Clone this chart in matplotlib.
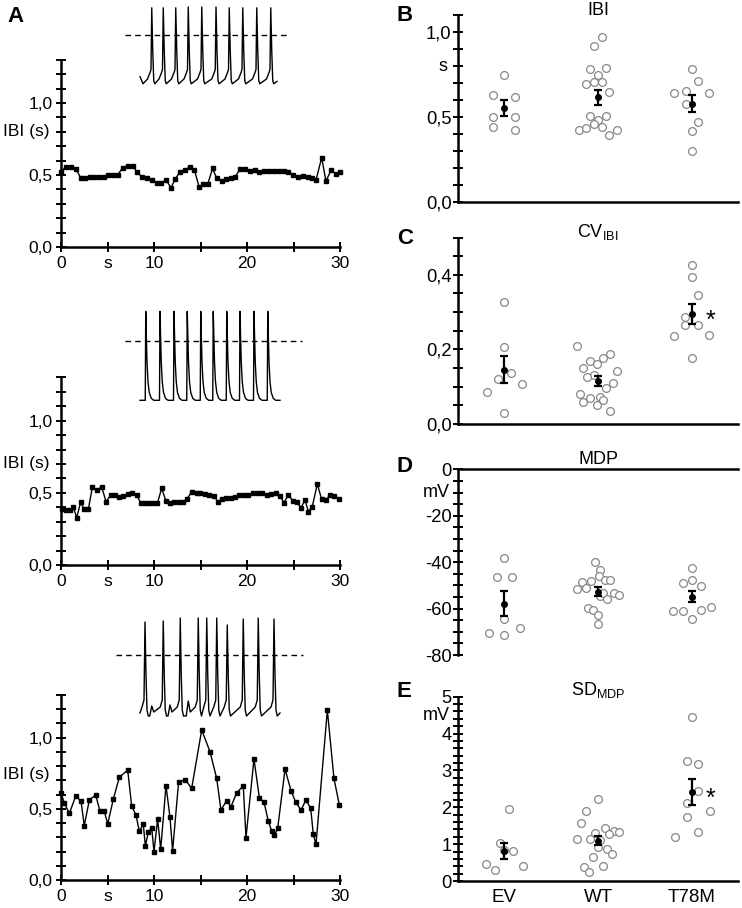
import numpy as np
import matplotlib
matplotlib.use("Agg")
import matplotlib.pyplot as plt

plt.rcParams['font.family'] = ['Liberation Sans', 'DejaVu Sans']

# ---------------- data: IBI time courses (panel A) ----------------
ibi1_t = [0.0, 0.54, 1.08, 1.61, 2.15, 2.58, 3.12, 3.58, 4.12, 4.62, 5.09, 5.63, 6.09, 6.63, 7.17,
          7.71, 8.14, 8.67, 9.21, 9.75, 10.29, 10.75, 11.29, 11.83, 12.26, 12.8, 13.33, 13.87, 14.34,
          14.87, 15.3, 15.77, 16.3, 16.74, 17.28, 17.74, 18.24, 18.71, 19.25, 19.78, 20.32, 20.86,
          21.32, 21.86, 22.37, 22.9, 23.44, 23.95, 24.44, 24.98, 25.52, 25.99, 26.53, 26.96, 27.42,
          28.03, 28.49, 29.03, 29.54, 30.0]
ibi1_v = [0.523, 0.558, 0.558, 0.541, 0.477, 0.477, 0.484, 0.484, 0.484, 0.488, 0.5, 0.5, 0.5, 0.551,
          0.565, 0.565, 0.523, 0.488, 0.477, 0.465, 0.442, 0.442, 0.465, 0.412, 0.470, 0.523, 0.535,
          0.558, 0.535, 0.414, 0.435, 0.435, 0.546, 0.477, 0.458, 0.472, 0.477, 0.486, 0.541, 0.541,
          0.528, 0.537, 0.523, 0.528, 0.528, 0.528, 0.528, 0.528, 0.519, 0.5, 0.484, 0.493, 0.484,
          0.477, 0.465, 0.62, 0.458, 0.532, 0.509, 0.523]

ibi2_t = [0.07, 0.54, 0.97, 1.32, 1.69, 2.11, 2.51, 2.94, 3.37, 3.9, 4.37, 4.84, 5.38, 5.81, 6.24,
          6.7, 7.17, 7.67, 8.14, 8.6, 9.03, 9.5, 9.93, 10.36, 10.82, 11.29, 11.72, 12.18, 12.69,
          13.15, 13.58, 14.05, 14.59, 14.95, 15.48, 15.95, 16.45, 16.85, 17.28, 17.74, 18.24, 18.71,
          19.17, 19.68, 20.14, 20.61, 21.15, 21.65, 22.12, 22.58, 23.09, 23.55, 23.98, 24.44, 24.91,
          25.34, 25.8, 26.24, 26.6, 27.02, 27.56, 28.03, 28.49, 28.92, 29.39, 29.9]
ibi2_v = [0.386, 0.381, 0.381, 0.40, 0.328, 0.434, 0.386, 0.386, 0.538, 0.52, 0.543, 0.439, 0.487,
          0.485, 0.469, 0.478, 0.49, 0.501, 0.485, 0.427, 0.427, 0.427, 0.427, 0.427, 0.531, 0.443,
          0.427, 0.434, 0.434, 0.439, 0.46, 0.508, 0.501, 0.501, 0.49, 0.485, 0.478, 0.439, 0.455,
          0.462, 0.466, 0.469, 0.485, 0.485, 0.485, 0.497, 0.501, 0.497, 0.485, 0.492, 0.497, 0.478,
          0.432, 0.485, 0.446, 0.439, 0.397, 0.45, 0.37, 0.404, 0.561, 0.455, 0.45, 0.485, 0.48, 0.46]

ibi3_t = [0.0, 0.36, 0.9, 1.58, 2.15, 2.5, 3.05, 3.73, 4.19, 4.66, 5.02, 5.63, 6.27, 7.17, 7.6,
          8.06, 8.42, 8.85, 9.07, 9.39, 9.75, 10.0, 10.39, 10.72, 11.29, 11.72, 12.0, 12.65, 13.37,
          14.05, 15.13, 16.02, 16.74, 17.2, 17.81, 18.28, 18.89, 19.6, 19.89, 20.75, 21.33, 21.83,
          22.29, 22.65, 22.94, 23.3, 24.09, 24.73, 25.23, 25.81, 26.34, 26.85, 27.13, 27.42, 28.64,
          29.35, 29.93]
ibi3_v = [0.614, 0.539, 0.468, 0.59, 0.555, 0.382, 0.562, 0.597, 0.485, 0.482, 0.393, 0.569, 0.721,
          0.773, 0.52, 0.457, 0.344, 0.391, 0.239, 0.337, 0.368, 0.199, 0.429, 0.215, 0.663, 0.44,
          0.206, 0.691, 0.703, 0.644, 1.054, 0.902, 0.714, 0.492, 0.557, 0.515, 0.614, 0.66, 0.297,
          0.85, 0.578, 0.546, 0.415, 0.344, 0.314, 0.363, 0.78, 0.628, 0.548, 0.492, 0.562, 0.504,
          0.321, 0.251, 1.194, 0.714, 0.527]

# ---------------- data: example voltage traces (insets, s / mV) ----------------
trace1_spk_t = [0.47, 0.93, 1.43, 1.93, 2.47, 3.04, 3.57, 4.11, 4.67, 5.23]
trace1_spk_v = [34, 34, 34, 35, 35, 35, 34, 34, 34, 34]
trace1_ends = [(0.0, -52), (0.12, -61), (5.48, -58)]
trace1_tmpl_dt = [-0.17, -0.07, -0.03, 0.0, 0.04, 0.08, 0.12]
trace1_tmpl_v = [-55, -47, -43, None, -20, -57, -61]

trace2_spk_t = [0.23, 0.8, 1.36, 1.89, 2.43, 2.93, 3.47, 4.0, 4.56, 5.11]
trace2_spk_v = [30, 30, 30, 30, 30, 30, 30, 30, 30, 30]
trace2_ends = [(0.0, -61), (5.6, -61)]
trace2_tmpl_dt = [-0.02, 0.0, 0.02, 0.05, 0.09, 0.14, 0.22, 0.32]
trace2_tmpl_v = [-61, None, 8, -22, -42, -53, -59, -61]

trace3_spk_t = [0.2, 0.93, 1.61, 2.33, 2.67, 3.07, 3.49, 4.13, 4.73, 5.36]
trace3_spk_v = [33, 34, 37, 37, 37, 37, 30, 36, 37, 36]
trace3_bump_t = [0.47, 1.2, 1.93]
trace3_bump_v = [-51, -50, -46]
trace3_ends = [(0.0, -58), (5.6, -58)]
trace3_tmpl_dt = [-0.12, -0.04, 0.0, 0.04, 0.08, 0.13]
trace3_tmpl_v = [-52, -45, None, -20, -55, -61]
bump_tmpl_dt = [-0.08, 0.0, 0.08]
bump_tmpl_v = [-61, None, -57]

# ---------------- data: group scatter (panels B-E) ----------------
groups = ['EV', 'WT', 'T78M']

ibi_pts = [[0.75, 0.632, 0.616, 0.50, 0.50, 0.439, 0.425],
           [0.970, 0.921, 0.785, 0.787, 0.746, 0.697, 0.709, 0.709, 0.650, 0.508, 0.508, 0.482,
            0.457, 0.441, 0.425, 0.435, 0.396, 0.425],
           [0.785, 0.715, 0.654, 0.640, 0.644, 0.579, 0.472, 0.415, 0.301]]
ibi_dx = [[0, -0.12, 0.12, -0.12, 0.12, -0.12, 0.12],
          [0.043, -0.043, -0.085, 0.082, 0, -0.128, -0.043, 0.043, 0.12, -0.085, 0.082, 0,
           -0.043, 0.043, -0.206, -0.128, 0.12, 0.206],
          [0, 0.064, -0.06, -0.19, 0.184, -0.06, 0.064, 0, 0]]
ibi_mean = [0.555, 0.616, 0.579]
ibi_sem = [0.048, 0.045, 0.052]

cv_pts = [[0.328, 0.206, 0.12, 0.136, 0.107, 0.087, 0.030],
          [0.208, 0.187, 0.176, 0.170, 0.160, 0.151, 0.142, 0.132, 0.127, 0.109, 0.096, 0.081,
           0.073, 0.069, 0.060, 0.064, 0.051, 0.035],
          [0.427, 0.395, 0.347, 0.288, 0.265, 0.266, 0.237, 0.238, 0.178]]
cv_dx = [[0, 0, -0.064, 0.071, 0.19, -0.18, 0],
         [-0.227, 0.124, 0.05, -0.085, -0.014, -0.156, 0.2, -0.046, -0.12, 0.163, 0.089, -0.195,
          0.021, -0.085, -0.156, 0.05, -0.014, 0.124],
         [0, 0, 0.064, -0.071, -0.071, 0.064, -0.19, 0.18, 0]]
cv_mean = [0.145, 0.115, 0.294]
cv_sem = [0.036, 0.0125, 0.027]

mdp_pts = [[-38.1, -46.2, -46.2, -64.5, -70.5, -71.4, -68.5],
           [-40.1, -43.2, -46.0, -47.7, -47.7, -48.1, -48.4, -51.0, -51.6, -54.4, -53.4, -53.4,
            -54.1, -56.0, -59.6, -60.6, -62.9, -66.8],
           [-42.7, -48.8, -47.7, -50.1, -60.9, -61.0, -60.6, -59.2, -64.5]]
mdp_dx = [[0, -0.08, 0.09, 0, -0.16, 0, 0.17],
          [-0.03, 0.025, 0.014, 0.07, 0.124, -0.078, -0.174, -0.131, -0.223, 0.018, 0.053, 0.174,
           0.223, 0.1, -0.103, -0.053, 0, 0],
          [0, -0.1, 0, 0.1, -0.2, -0.1, 0.1, 0.2, 0]]
mdp_mean = [-57.9, -52.7, -54.9]
mdp_sem = [5.3, 1.8, 2.45]

sd_pts = [[1.944, 1.04, 0.814, 0.452, 0.298, 0.407, 0.84],
          [2.224, 1.908, 1.564, 1.447, 1.356, 1.338, 1.302, 1.266, 1.148, 1.130, 0.913, 0.868,
           0.732, 0.642, 0.371, 0.407, 0.253, 1.1],
          [4.457, 3.255, 3.165, 2.45, 2.125, 1.908, 1.745, 1.338, 1.184]]
sd_dx = [[0.053, -0.046, 0.1, -0.195, -0.092, 0.2, 0],
         [0, -0.124, -0.177, 0.074, 0.17, 0.22, -0.028, 0.12, -0.223, -0.082, 0, 0.096, 0.149,
          -0.053, -0.152, 0.05, -0.1, 0.018],
         [0, -0.057, 0.067, 0.067, -0.057, 0.19, -0.057, 0.067, -0.18]]
sd_mean = [0.823, 1.094, 2.405]
sd_sem = [0.215, 0.127, 0.353]

# ---------------- layout helpers (reference pixel boxes) ----------------
W, H = 742, 908
fig = plt.figure(figsize=(W / 100, H / 100), dpi=100)


def px_axes(left, top, right, bottom):
    return fig.add_axes([left / W, 1 - bottom / H, (right - left) / W, (bottom - top) / H])


def comma(v, nd=1):
    return f"{v:.{nd}f}".replace('.', ',')


def style_axis(ax, spines, labelsize=12.5):
    for s in ['left', 'right', 'top', 'bottom']:
        ax.spines[s].set_visible(s in spines)
        ax.spines[s].set_linewidth(1.8)
    ax.tick_params(direction='inout', length=6.5, width=1.4, labelsize=labelsize, color='k')


def waveform(ends, spk_t, spk_v, tmpl_dt, tmpl_v, extra=None):
    pts = list(ends)
    for t, p in zip(spk_t, spk_v):
        for dt, v in zip(tmpl_dt, tmpl_v):
            pts.append((t + dt, p if v is None else v))
    if extra is not None:
        for t, p in zip(*extra[:2]):
            for dt, v in zip(extra[2], extra[3]):
                pts.append((t + dt, p if v is None else v))
    pts.sort()
    return np.array(pts).T


def trace_inset(top, bottom, zero_px, px_per_mv, tv, dash_rng):
    ax = px_axes(110, top, 310, bottom)
    ax.set_xlim(-1.2, 6.8)
    ax.set_ylim(-(bottom - zero_px) / px_per_mv, (zero_px - top) / px_per_mv)
    ax.axis('off')
    ax.patch.set_alpha(0)
    ax.plot(tv[0], tv[1], color='k', lw=1.0)
    ax.plot(dash_rng, [0, 0], color='k', lw=1.0, linestyle=(0, (4, 3)))


# ---------------- panel A ----------------
ibi_sets = [(ibi1_t, ibi1_v, 59.8, 247, 0.8), (ibi2_t, ibi2_v, 377.4, 565, 0.7),
            (ibi3_t, ibi3_v, 695, 880, 0.74)]
for t, v, top, bottom, lab_y in ibi_sets:
    ax = px_axes(61, top, 340, bottom)
    style_axis(ax, ['left', 'bottom'])
    ax.plot(t, v, '-s', color='k', lw=1.0, ms=2.4, clip_on=False)
    ax.set_xlim(0, 30)
    ax.set_ylim(0, 1.3)
    yt = np.round(np.arange(0, 1.31, 0.1), 2)
    ax.set_yticks(yt)
    ax.set_yticklabels([comma(y) if y in (0.0, 0.5, 1.0) else '' for y in yt])
    ax.set_xticks([0, 5, 10, 15, 20, 25, 30])
    ax.set_xticklabels(['0', 's', '10', '', '20', '', '30'])
    ax.tick_params(axis='y', pad=3)
    ax.tick_params(axis='x', pad=3)
    ax.annotate('IBI (s)', xy=(0, lab_y), xycoords=('axes fraction', 'data'), xytext=(-8, 0),
                textcoords='offset points', ha='right', va='center', fontsize=12.5)

trace_inset(0, 95, 35, 0.8,
            waveform(trace1_ends, trace1_spk_t, trace1_spk_v, trace1_tmpl_dt, trace1_tmpl_v),
            [-0.6, 6.0])
trace_inset(305, 405, 340.7, 0.977,
            waveform(trace2_ends, trace2_spk_t, trace2_spk_v, trace2_tmpl_dt, trace2_tmpl_v),
            [-0.6, 6.47])
trace_inset(612, 720, 655, 1.0,
            waveform(trace3_ends, trace3_spk_t, trace3_spk_v, trace3_tmpl_dt, trace3_tmpl_v,
                     extra=(trace3_bump_t, trace3_bump_v, bump_tmpl_dt, bump_tmpl_v)),
            [-0.96, 6.52])


# ---------------- panels B-E ----------------
def dot_panel(ax, pts, dxs, means, sems):
    for i in range(len(groups)):
        ax.plot(i + np.array(dxs[i]), pts[i], 'o', mfc='white', mec='#888888', mew=0.9,
                ms=5.6, ls='none', zorder=2)
        ax.errorbar(i, means[i], yerr=sems[i], fmt='o', color='k', ms=4, capsize=3.2,
                    elinewidth=1.6, capthick=1.6, zorder=3)
    ax.set_xlim(-0.49, 2.49)
    ax.set_xticks([])


def star(ax, y):
    ax.annotate('*', xy=(2, y), xytext=(10, -10), textcoords='offset points',
                ha='left', va='baseline', fontsize=18)


def unit_label(ax, y, text, off):
    ax.annotate(text, xy=(0, y), xycoords=('axes fraction', 'data'), xytext=(-off, 0),
                textcoords='offset points', ha='right', va='center', fontsize=13)


# B
ax = px_axes(458, 15.4, 738, 201.7)
style_axis(ax, ['left', 'bottom'], 13.2)
dot_panel(ax, ibi_pts, ibi_dx, ibi_mean, ibi_sem)
ax.set_ylim(0, 1.1)
yt = np.round(np.arange(0, 1.11, 0.1), 2)
ax.set_yticks(yt)
ax.set_yticklabels([comma(y) if y in (0.0, 0.5, 1.0) else '' for y in yt])
ax.tick_params(axis='y', pad=1.5)
unit_label(ax, 0.8, 's', 7.5)
ax.set_title('IBI', fontsize=13, pad=0, y=1.0)

# C
ax = px_axes(458, 237.5, 738, 424)
style_axis(ax, ['left', 'bottom'], 13.2)
dot_panel(ax, cv_pts, cv_dx, cv_mean, cv_sem)
ax.set_ylim(0, 0.5)
yt = np.round(np.arange(0, 0.51, 0.05), 2)
ax.set_yticks(yt)
ax.set_yticklabels([comma(y) if y in (0.0, 0.2, 0.4) else '' for y in yt])
ax.tick_params(axis='y', pad=1.5)
ax.set_title(r'$\mathregular{CV_{IBI}}$', fontsize=13, pad=0, y=1.0)
star(ax, cv_mean[2])

# D
ax = px_axes(458, 469.3, 738, 655)
style_axis(ax, ['left', 'top'], 13.2)
dot_panel(ax, mdp_pts, mdp_dx, mdp_mean, mdp_sem)
ax.set_ylim(-80, 0)
yt = np.arange(-80, 1, 5)
ax.set_yticks(yt)
ax.set_yticklabels([str(y) if y % 20 == 0 else '' for y in yt])
ax.tick_params(axis='y', pad=1.5)
ax.tick_params(axis='x', length=0)
unit_label(ax, -10, 'mV', 6)
ax.set_title('MDP', fontsize=13, pad=4, y=1.0)

# E
ax = px_axes(458, 696.7, 738, 881)
style_axis(ax, ['left', 'bottom'], 13.2)
dot_panel(ax, sd_pts, sd_dx, sd_mean, sd_sem)
ax.set_ylim(0, 5)
yt = np.round(np.arange(0, 5.01, 0.2), 2)
ax.set_yticks(yt)
ax.set_yticklabels([str(int(y)) if abs(y - round(y)) < 1e-6 else '' for y in yt])
ax.tick_params(axis='y', pad=1.5)
unit_label(ax, 4.5, 'mV', 6)
ax.set_xticks(range(len(groups)))
ax.set_xticklabels(groups, fontsize=13.5)
ax.tick_params(axis='x', length=0, pad=6)
ax.set_title(r'$\mathregular{SD_{MDP}}$', fontsize=13, pad=1, y=1.0)
star(ax, sd_mean[2])

# panel letters
for letter, x, y in [('A', 7, 6), ('B', 397, 5), ('C', 397, 228), ('D', 397, 456), ('E', 397, 681)]:
    fig.text(x / W, 1 - y / H, letter, ha='left', va='top', fontsize=16, fontweight='bold')

fig.savefig('out.png', dpi=100)
